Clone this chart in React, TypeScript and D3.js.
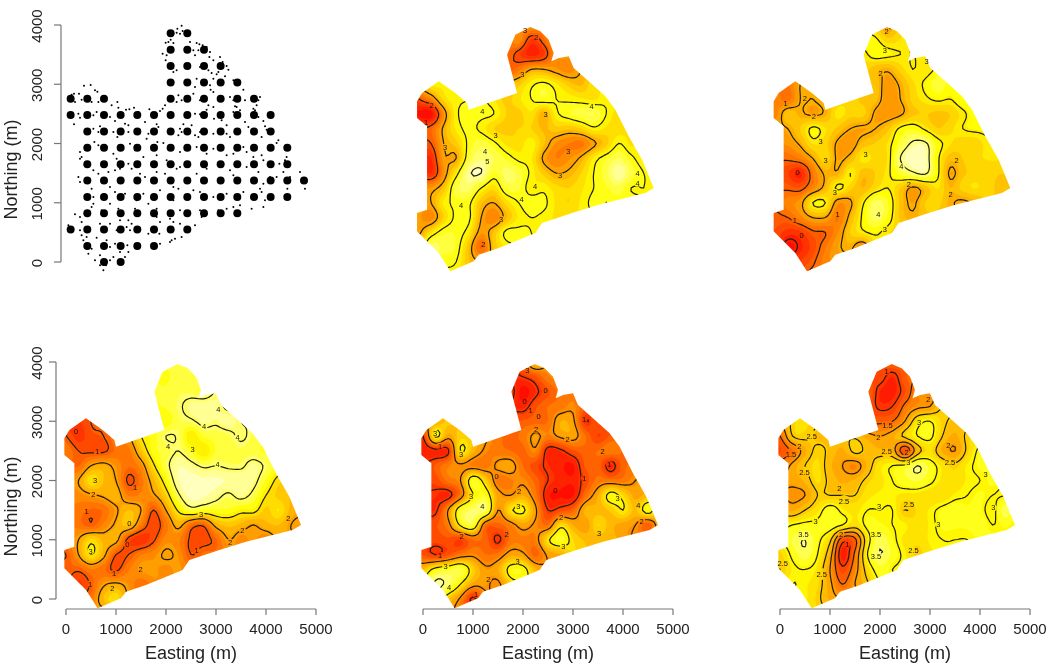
import React from "react";
import * as d3 from "d3";

const x = null;

// field grid: easting per column, northing per row
const gridE = [0, 250, 500, 750, 1000, 1250, 1500, 1750, 2000, 2250, 2500, 2750, 3000, 3250, 3500, 3750, 4000, 4250, 4500, 4750];
const gridN = [4000, 3750, 3500, 3250, 3000, 2750, 2500, 2250, 2000, 1750, 1500, 1250, 1000, 750, 500, 250, 0, -250];

const boundary = [
  [2233, 3966], [2433, 3893], [2600, 3752], [2700, 3527], [2653, 3387], [2800, 3443], [3000, 3471], [3100, 3274],
  [3400, 3049], [3733, 2796], [3933, 2571], [4200, 2121], [4467, 1727], [4700, 1249], [4533, 1165], [3600, 968],
  [3067, 827], [2467, 658], [2333, 489], [1600, 236], [1200, 124], [1100, 11], [633, -158], [400, 152],
  [-33, 518], [-33, 827], [167, 883], [167, 2290], [-33, 2430], [-33, 2712], [67, 2852], [400, 3049],
  [733, 2852], [967, 2684], [1000, 2571], [1967, 2852], [1767, 3499], [1933, 3837],
];

// sampling design: coarse grid of large points
const coarseE = [73, 406, 740, 1073, 1406, 1740, 2073, 2406, 2740, 3073, 3406, 3740, 4073, 4406, 4740];
const coarseN = [3859, 3583, 3307, 3031, 2755, 2479, 2203, 1927, 1651, 1375, 1099, 823, 547, 271, 0];
const coarseCols = [[6, 7], [6, 8], [6, 9], [6, 10], [0, 2], [0, 12], [1, 12], [1, 13], [1, 13], [1, 14], [1, 13], [1, 10], [0, 7], [1, 5], [2, 3]];
const coarseExtra = [[], [], [], [], [6, 7, 8, 9, 10, 11], [], [], [], [], [], [], [], [], [], []];

const finePoints = [
  [2293,3989],[2207,3938],[2313,3899],[2193,3871],[2260,3854],[2360,3831],[1973,3702],[2027,3713],[2073,3753],[2127,3696],
  [2460,3713],[2593,3696],[2647,3674],[2713,3657],[2793,3629],[1913,3516],[1993,3488],[1973,3404],[2527,3573],[2560,3488],
  [2627,3573],[2860,3544],[2847,3460],[2927,3404],[3060,3460],[3113,3376],[3193,3308],[3227,3246],[2193,3235],[2127,3207],
  [2660,3291],[2827,3235],[2893,3190],[2993,3167],[2927,3094],[3160,3134],[3027,3207],[2593,3094],[2560,2954],[2860,2982],
  [2927,2869],[2873,2909],[3327,3066],[3460,3010],[3527,2909],[1960,2644],[1913,2588],[1860,2549],[1793,2504],[2227,2813],
  [2293,2729],[2193,2700],[2527,2841],[2660,2729],[2927,2616],[2827,2644],[3260,2785],[3327,2729],[3360,2627],[3560,2729],
  [3860,2785],[3827,2729],[3793,2644],[3727,2588],[93,2824],[140,2841],[240,2841],[340,2976],[473,2987],[560,2897],
  [607,2875],[293,2740],[160,2700],[493,2700],[627,2700],[693,2729],[893,2644],[1007,2700],[1027,2605],[1180,2571],
  [1247,2577],[1340,2605],[1427,2532],[1647,2577],[227,2504],[260,2436],[140,2324],[593,2532],[527,2475],[860,2447],
  [960,2380],[1160,2335],[1227,2307],[1093,2250],[1227,2194],[1560,2363],[1793,2324],[1827,2279],[1627,2166],[2260,2250],
  [2227,2138],[2327,2324],[2493,2307],[2560,2504],[2660,2492],[2793,2571],[2940,2419],[3093,2391],[3193,2307],[3327,2532],
  [3393,2616],[3460,2560],[3760,2560],[3827,2447],[3927,2380],[3960,2290],[3993,2234],[3560,2363],[3627,2279],[527,2250],
  [660,2290],[627,2194],[927,2194],[1007,2110],[1593,2082],[1807,2025],[1927,2008],[2293,2194],[2560,2138],[2660,2194],
  [2627,2110],[2927,2166],[3193,2166],[3260,2110],[3460,2194],[3893,2110],[4227,2054],[4193,2008],[260,1857],[293,1772],
  [260,1744],[547,2025],[627,1969],[793,1941],[927,1828],[993,1744],[1260,1997],[1360,1885],[1527,1772],[1793,1800],
  [1993,1716],[2260,1857],[2593,1941],[2793,1828],[2927,1913],[3193,1800],[3327,1828],[3527,1941],[3593,1857],[3727,1772],
  [3893,1800],[3927,1716],[4393,1772],[4360,1716],[4247,1660],[227,1435],[260,1350],[527,1547],[627,1491],[827,1519],
  [960,1547],[1060,1575],[1227,1660],[1293,1575],[1460,1491],[1560,1435],[1793,1519],[1960,1491],[2193,1575],[2227,1238],
  [2260,1603],[2593,1491],[2793,1575],[3260,1547],[3327,1463],[3593,1603],[3827,1519],[3927,1322],[4060,1435],[4193,1435],
  [4327,1519],[4460,1435],[4660,1519],[4760,1238],[4407,1238],[493,1238],[527,1097],[860,1266],[960,1181],[1160,1153],
  [1527,1153],[1393,1041],[1860,1210],[2127,1266],[2527,1210],[2660,1181],[2927,1097],[3193,1153],[3527,1181],[3860,1238],
  [3893,1181],[4027,1097],[3960,1041],[3927,928],[3693,900],[527,985],[493,928],[693,872],[860,985],[1027,900],
  [1360,900],[1627,985],[1793,900],[2127,1041],[2260,872],[2660,872],[3027,872],[3193,900],[3327,928],[3460,956],
  [160,805],[260,760],[293,675],[27,619],[260,534],[293,450],[660,647],[860,647],[1060,703],[1227,703],
  [1293,647],[1793,760],[1860,675],[2060,731],[2127,675],[2260,647],[2693,760],[2560,619],[2293,422],[393,422],
  [593,411],[993,534],[1260,534],[1193,591],[1627,478],[1760,506],[1847,478],[2060,338],[2160,394],[2093,366],
  [327,366],[427,141],[493,225],[793,366],[860,253],[960,309],[1207,281],[1227,169],[1060,169],[927,84],
  [860,28],[660,113],[560,28],[660,-56],[727,-141],[780,-56],[1160,84],[1860,309],
];

// each row: first entry is the column it starts at, then values left to right
const fieldA = [
  [9, 2.9],
  [8, 2.7, 1.7, 2.2, 3],
  [8, 1.8, 1.4, 1.7, 2.7],
  [8, 2.4, 3.0, 3.0, 2.8, 2.6, 3],
  [1, 3.8, 3.8, x, x, x, x, x, x, 3.9, 4.1, 3.8, 3.4, 3.2, 3.7],
  [1, 2.6, 3.6, 3.9, x, x, x, 3.4, 3.7, 4.0, 4.2, 4.0, 3.9, 3.8, 3.7],
  [0, 1.2, 1.1, 2.7, 3.9, 4.1, 4.1, 4.0, 3.5, 3.4, 3.7, 3.1, 3.9, 4.2, 4.4, 4.5, 4.0, 3.6],
  [0, 2.0, 2.2, 3.1, 3.8, 4.1, 3.9, 3.5, 3.4, 3.5, 3.5, 3.2, 3.4, 3.3, 3.5, 3.9, 3.7, 3.6],
  [1, 2.0, 3.0, 3.4, 4.1, 4.4, 4.1, 3.7, 3.6, 3.9, 3.3, 2.7, 2.5, 2.4, 2.9, 3.4, 4.0, 3.7],
  [1, 1.5, 2.9, 3.0, 4.3, 4.7, 4.5, 4.2, 3.9, 3.8, 2.9, 2.5, 2.7, 3.1, 3.8, 4.2, 4.5, 4.1, 3.8],
  [1, 1.5, 2.7, 3.8, 4.9, 5.0, 4.2, 4.6, 4.4, 3.9, 3.4, 3.0, 3.1, 3.5, 4.0, 4.4, 5.0, 4.4, 4.0],
  [1, 2.8, 3.3, 4.4, 4.6, 4.0, 3.6, 4.3, 4.3, 3.8, 3.9, 3.6, 3.5, 3.7, 4.0, 4.2, 4.4, 4.0, 4.0, 3.9],
  [0, 2.9, 3.0, 3.8, 4.1, 4.1, 3.3, 3.0, 3.6, 4.0, 4.2, 4.1, 3.7, 3.5, 3.8, 4.1, 4.0],
  [0, 2.8, 2.6, 3.5, 4.1, 4.1, 3.0, 2.5, 3.2, 3.8, 4.0, 3.9, 3.7],
  [0, 2.9, 3.7, 4.2, 4.2, 3.8, 2.8, 3.3, 4.1, 4.1, 4.0],
  [1, 4.6, 4.4, 4.2, 3.3, 2.2, 3.3, 3.8],
  [2, 4.1, 4.0, 3.3, 3.0],
  [3, 3.8],
];
const fieldB = [
  [9, 1.8],
  [8, 3.1, 2.6, 2.8, 3],
  [8, 3.2, 3.1, 3.0, 3.0],
  [8, 2.3, 2.1, 2.6, 3.0, 2.8, 3.1],
  [1, 1.3, 2.0, x, x, x, x, x, 2.4, 1.7, 2.1, 2.7, 3.1, 3.6, 3.2],
  [0, 1.5, 1.2, 2.0, 2.0, x, x, x, x, 2.3, 1.7, 2.0, 2.6, 2.9, 3.1, 3.0, 3.3],
  [0, 1.5, 2.4, 2.1, 1.9, 2.1, 2.9, 2.6, 2.6, 1.9, 1.7, 1.9, 2.4, 2.5, 2.4, 2.5, 2.9, 3.2],
  [1, 2.0, 2.5, 3.1, 2.8, 2.4, 2.0, 1.9, 2.0, 2.4, 3.1, 3.3, 2.9, 2.5, 2.7, 3.0, 3.1, 3.1],
  [1, 1.7, 2.1, 2.8, 2.6, 1.9, 1.7, 2.3, 2.5, 2.8, 3.5, 4.1, 4.1, 3.2, 2.8, 2.6, 2.6, 2.9],
  [1, 1.1, 1.4, 2.0, 2.7, 1.9, 2.2, 2.9, 2.7, 2.8, 4.0, 4.4, 4.3, 3.1, 2.3, 2.5, 2.7, 2.8, 2.8],
  [1, 0.5, 0.1, 1.3, 2.1, 2.1, 3.0, 2.3, 2.5, 2.9, 3.5, 3.9, 4.1, 3.1, 1.9, 2.4, 2.6, 2.6, 2.5],
  [1, 0.9, 0.8, 1.5, 2.2, 3.1, 2.6, 2.2, 2.7, 3.0, 2.5, 1.9, 2.3, 2.8, 2.2, 2.6, 2.8, 2.6, 2.4, 2.3],
  [1, 1.5, 1.8, 3.0, 3.0, 1.7, 1.9, 2.9, 3.8, 3.4, 2.4, 1.9, 2.5, 2.6, 2.1, 1.9, 2.1],
  [0, 0.9, 1.0, 1.5, 2.0, 2.0, 1.3, 2.2, 3.1, 3.8, 3.3, 2.4, 2.1, 2.4],
  [0, 0.7, 0.3, 0.4, 0.9, 1.0, 1.6, 2.5, 2.9, 3.1, 2.8],
  [1, -0.2, 0.1, 0.6, 1.3, 1.9, 2.1, 1.6],
  [2, 0.5, 0.9, 1.5],
  [3, 1.2],
];
const fieldC = [
  [9, 3.6],
  [8, 3.5, 3.7, 3.6],
  [7, 3.6, 3.6, 3.8, 3.8, 3.7],
  [8, 3.6, 3.9, 4.2, 4.3, 4.2, 3.9],
  [1, 0.6, 1.0, x, x, x, x, x, 3.3, 3.8, 3.9, 4.2, 4.1, 4.3, 4.0],
  [1, 0.5, 0.9, 1.0, 1.5, x, 3.0, 3.4, 4.0, 3.9, 3.0, 3.6, 3.7, 3.8, 4.1, 3.8],
  [0, 1.5, 1.0, 0.9, 0.9, 1.3, 1.4, 2.5, 3.4, 3.7, 4.0, 3.5, 3.0, 3.6, 3.7, 3.8, 3.7, 3.5],
  [1, 1.2, 2.0, 2.2, 1.8, 1.3, 1.7, 2.9, 3.8, 4.4, 4.2, 3.9, 4.0, 3.9, 3.9, 4.2, 3.9],
  [1, 2.0, 2.9, 2.4, 2.0, 0.9, 1.4, 2.3, 3.3, 4.4, 4.6, 4.5, 4.5, 4.4, 4.4, 4.2, 3.5, 2.8],
  [1, 1.7, 1.9, 2.1, 2.3, 1.5, 1.6, 1.9, 2.7, 3.9, 4.6, 4.5, 4.2, 3.9, 4.2, 3.8, 3.0, 2.6, 2.4],
  [1, 1.4, 1.2, 1.3, 1.9, 2.4, 2.0, 1.0, 2.0, 3.1, 3.7, 3.5, 3.5, 3.5, 3.2, 3.2, 2.6, 3.0, 2.3],
  [1, 1.4, 1.1, 1.6, 2.1, 2.5, 1.5, 0.7, 1.4, 2.2, 1.3, 1.1, 2.2, 2.5, 2.3, 2.0, 2.3, 2.4, 2.0, 1.8],
  [1, 2.0, 2.8, 2.3, 2.2, 0.8, 0.4, 0.9, 1.7, 1.6, 0.9, 0.8, 1.2, 2.0, 1.7, 1.9, 1.6],
  [0, 1.0, 2.0, 3.0, 2.2, 1.0, 1.0, 1.5, 1.7, 2.1, 1.8, 1.0, 1.3],
  [0, 1.2, 1.1, 1.5, 1.3, 0.9, 1.5, 1.9, 1.9, 1.7, 1.9],
  [1, 0.6, 1.1, 1.9, 2.1, 1.8, 1.3],
  [2, 1.4, 2.4, 2.9],
  [3, 1.7],
];
const fieldD = [
  [9, 2.6],
  [8, 1.0, 1.3, 1.8, 1.9],
  [7, 1.2, 0.5, 0.9, 1.3, 1.7],
  [8, 0.8, 1.3, 1.6, 1.7, 1.9, 1.4],
  [1, 2.3, 2.6, x, x, x, x, x, 1.4, 1.5, 1.6, 2.3, 2.1, 1.0, 1.4],
  [0, 1.0, 3.1, 2.2, 2.7, 2.6, x, x, 1.5, 1.7, 2.1, 1.8, 2.1, 2.2, 1.6, 1.1, 1.4],
  [0, 0.7, 0.8, 0.9, 3.0, 2.4, 1.9, 1.7, 1.6, 1.5, 1.9, 0.8, 0.9, 1.3, 1.5, 1.6, 1.8, 1.6],
  [1, 1.4, 1.8, 1.9, 1.8, 1.7, 2.1, 2.2, 1.6, 1.2, 0.9, 0.7, 0.6, 1.4, 1.5, 0.8, 1.5],
  [1, 1.2, 1.7, 2.0, 3.4, 2.7, 1.7, 1.8, 1.9, 1.5, 1.0, 0.8, 0.7, 1.2, 1.7, 1.7, 1.7, 2.0],
  [1, 0.9, 0.8, 1.7, 3.0, 3.3, 2.2, 2.0, 2.3, 1.7, 0.7, 0.6, 0.6, 1.6, 2.3, 3.2, 2.8, 2.2, 2.5],
  [1, 0.9, 2.0, 3.4, 3.8, 3.8, 2.0, 2.9, 3.1, 2.1, 1.0, 1.2, 1.5, 2.4, 2.4, 2.6, 3.0, 2.5, 3.3],
  [1, 1.3, 1.8, 3.1, 3.5, 1.6, 1.5, 1.8, 2.2, 1.9, 1.6, 2.8, 2.3, 2.1, 2.8, 2.4, 2.2, 2.0, 1.4, 2.4],
  [1, 1.2, 1.3, 1.1, 1.6, 1.5, 0.9, 1.7, 1.8, 1.8, 2.9, 3.4, 2.8, 2.5, 2.4, 2.4, 2.2],
  [0, 1.3, 1.0, 1.3, 1.7, 1.9, 1.6, 1.7, 2.2, 2.1, 1.5, 2.1, 2.3],
  [0, 2.5, 3.2, 3.4, 3.6, 2.7, 2.1, 2.3, 3.2, 3.2, 2.4],
  [1, 4.1, 3.8, 3.0, 2.2, 2.1, 1.9],
  [2, 2.6, 1.9, 0.9],
  [3, 1.8],
];
const fieldE = [
  [9, 1.5],
  [8, 1.2, 0.8, 1.4],
  [7, 1.5, 0.8, 0.7, 1.2, 1.8],
  [7, 1.3, 0.9, 1.0, 1.6, 1.9, 2.0],
  [1, 2.6, 2.7, x, x, x, x, x, 1.4, 1.5, 2.0, 2.8, 3.0, 2.6, 2.4],
  [0, 1.5, 2.5, 2.6, 2.4, x, x, x, x, 2.0, 2.2, 2.6, 3.0, 3.1, 2.5, 2.2, 2.6],
  [0, 1.2, 1.6, 2.2, 2.6, 2.4, 2.2, 2.6, 2.4, 2.3, 2.2, 1.2, 2.3, 2.7, 2.2, 2.0, 2.6, 3.1],
  [1, 2.1, 2.5, 2.7, 2.3, 2.0, 1.8, 2.3, 2.8, 3.0, 3.1, 3.5, 3.2, 2.8, 2.6, 2.9, 3.1],
  [1, 2.1, 2.3, 2.7, 2.4, 2.2, 2.3, 2.6, 2.8, 3.0, 3.2, 3.3, 3.1, 2.8, 2.7, 2.9, 3.0, 3.1],
  [1, 1.9, 2.0, 2.5, 2.5, 2.5, 2.5, 2.8, 2.9, 2.9, 2.8, 2.8, 2.7, 2.7, 2.9, 3.0, 3.1, 3.0, 3.0],
  [1, 2.2, 2.5, 2.8, 3.2, 2.9, 2.8, 3.0, 3.0, 3.0, 2.5, 2.7, 2.9, 3.1, 3.2, 3.1, 3.1, 2.9, 3.4],
  [1, 3.0, 3.1, 3.1, 3.2, 3.0, 2.7, 3.1, 3.1, 3.0, 2.9, 2.7, 2.9, 3.1, 3.1, 3.1, 3.2, 3.0, 3.1, 3.0],
  [1, 3.3, 3.5, 3.1, 2.6, 1.2, 1.4, 2.8, 3.4, 3.1, 2.8, 2.7, 2.9, 3.0, 3.0, 3.0],
  [0, 2.6, 3.1, 3.4, 3.0, 2.2, 0.7, 1.6, 3.0, 3.5, 3.2, 2.9, 2.6, 2.8],
  [0, 2.5, 2.9, 3.0, 2.8, 2.0, 1.1, 1.8, 2.7, 3.2, 3.0],
  [1, 3.0, 2.9, 2.7, 2.1, 1.5, 2.0],
  [2, 2.9, 2.6, 2.2],
  [3, 2.7],
];

// contour labels: easting, northing, text
const labelsA = [[2127,3904,"3"],[2347,3786,"2"],[2073,3173,"3"],[3460,2633,"4"],[2540,2492,"3"],[1273,2548,"4"],[260,2638,"2"],[147,2357,"1"],[1540,2143,"3"],[527,1935,"3"],[1327,1868,"4"],[1373,1699,"5"],[2827,1457,"3"],[2993,1868,"3"],[4380,1502,"4"],[4380,1328,"4"],[2327,1271,"4"],[847,951,"4"],[2060,1058,"4"],[1647,726,"3"],[1293,293,"2"]];
const labelsB = [[2227,3899,"2"],[2193,3567,"3"],[3027,3381,"3"],[2107,3184,"2"],[593,2762,"2"],[207,2678,"1"],[773,2453,"2"],[907,2031,"3"],[1007,1722,"3"],[1807,1817,"3"],[2520,1609,"4"],[447,1513,"0"],[2673,1316,"2"],[3627,1722,"2"],[3507,1142,"2"],[1193,1176,"3"],[1247,810,"1"],[2060,805,"4"],[2193,557,"3"],[393,709,"1"],[527,456,"0"]];
const labelsC = [[200,2835,"0"],[627,2487,"1"],[3047,3207,"4"],[2760,2920,"4"],[3433,2729,"4"],[2040,2582,"4"],[2533,2532,"3"],[3033,2273,"4"],[580,1997,"3"],[547,1772,"2"],[1380,1879,"1"],[413,1480,"1"],[2700,1429,"3"],[1267,1283,"0"],[3527,1159,"2"],[4447,1356,"2"],[1227,917,"0"],[493,810,"3"],[3280,962,"2"],[2613,816,"1"],[960,433,"1"],[1493,501,"2"],[480,253,"1"],[927,174,"2"]];
const labelsD = [[2087,3865,"3"],[2453,3516,"0"],[2033,3331,"0"],[2153,3179,"1"],[2313,3077,"0"],[3220,3032,"1"],[2260,2864,"2"],[2893,2695,"2"],[3593,2487,"2"],[240,2796,"3"],[340,2582,"1"],[760,2447,"3"],[3727,2273,"1"],[3227,2037,"1"],[1473,2070,"0"],[1920,1823,"2"],[2647,1840,"0"],[960,1727,"3"],[1187,1570,"4"],[1907,1558,"3"],[3893,1699,"3"],[4307,1575,"4"],[4373,1316,"2"],[2760,1373,"2"],[773,1063,"2"],[1673,1091,"2"],[2807,883,"3"],[3520,1108,"3"],[340,743,"1"],[453,551,"3"],[1893,641,"3"],[520,197,"4"],[1307,332,"2"],[1060,79,"1"]];
const labelsE = [[2133,3837,"1"],[2967,3370,"2"],[2780,2982,"3"],[2147,2925,"1.5"],[1967,2729,"2"],[633,2751,"2.5"],[387,2571,"2"],[220,2447,"1.5"],[3367,2599,"2"],[2133,2487,"2.5"],[2533,2470,"2"],[3400,2307,"2.5"],[2567,2301,"3"],[487,2132,"2.5"],[4113,2110,"3"],[1187,1868,"2"],[1280,1654,"2.5"],[1980,1558,"3"],[2580,1603,"2.5"],[4267,1541,"3"],[713,1316,"3"],[3167,1260,"3"],[467,1091,"3.5"],[1220,1091,"2"],[1920,1091,"3.5"],[1347,928,"1"],[2667,827,"2.5"],[1920,726,"3.5"],[53,602,"2.5"],[833,422,"2.5"]];

const xTicks = [0, 1000, 2000, 3000, 4000, 5000];
const yTicks = [0, 1000, 2000, 3000, 4000];
const FONT = "'Liberation Sans', Arial, sans-serif";
const UPSAMPLE = 5;
const STEP = 250;

const xScale = (x0: number) => d3.scaleLinear().domain([0, 5000]).range([x0, x0 + 250]);
const yScale = (y0: number) => d3.scaleLinear().domain([0, 4000]).range([y0, y0 - 237]);

// rows -> full matrix, holes outside the survey area filled from their neighbours
function buildMatrix(rows: any[][]) {
  const nc = gridE.length;
  const m: (number | null)[][] = rows.map((r) => {
    const out: (number | null)[] = new Array(nc).fill(null);
    r.slice(1).forEach((v, k) => { if (r[0] + k < nc) out[r[0] + k] = v; });
    return [out[0], ...out]; // one extra column on the left, the area starts just west of 0
  });
  let holes = true;
  while (holes) {
    holes = false;
    const copy = m.map((r) => r.slice());
    m.forEach((r, j) => r.forEach((v, i) => {
      if (v !== null) return;
      const near: number[] = [];
      for (let dj = -1; dj <= 1; dj++) for (let di = -1; di <= 1; di++) {
        const n = m[j + dj]?.[i + di];
        if (n !== null && n !== undefined) near.push(n);
      }
      if (near.length) copy[j][i] = d3.mean(near) as number;
      else holes = true;
    }));
    copy.forEach((r, j) => (m[j] = r));
  }
  return m as number[][];
}

// catmull-rom resample so the filled bands come out smooth
function resample(m: number[][]) {
  const h = m.length, w = m[0].length;
  const W = (w - 1) * UPSAMPLE + 1, H = (h - 1) * UPSAMPLE + 1;
  const cr = (a: number, b: number, c: number, d: number, t: number) =>
    0.5 * (2 * b + (c - a) * t + (2 * a - 5 * b + 4 * c - d) * t * t + (3 * b - a - 3 * c + d) * t * t * t);
  const cl = (v: number, n: number) => Math.max(0, Math.min(n - 1, v));
  const out = new Array(W * H);
  for (let y = 0; y < H; y++) {
    const fy = y / UPSAMPLE, j = Math.min(h - 2, Math.floor(fy)), ty = fy - j;
    for (let x2 = 0; x2 < W; x2++) {
      const fx = x2 / UPSAMPLE, i = Math.min(w - 2, Math.floor(fx)), tx = fx - i;
      const col = [-1, 0, 1, 2].map((dj) => {
        const r = m[cl(j + dj, h)];
        return cr(r[cl(i - 1, w)], r[cl(i, w)], r[cl(i + 1, w)], r[cl(i + 2, w)], tx);
      });
      out[y * W + x2] = cr(col[0], col[1], col[2], col[3], ty);
    }
  }
  return { values: out, W, H };
}

function HeatMap({ id, rows, levels, labels, lo, mid, hi, x0, y0 }: any) {
  const sx = xScale(x0), sy = yScale(y0);
  const { values, W, H } = resample(buildMatrix(rows));
  const path = d3.geoPath(d3.geoTransform({
    point(px: number, py: number) {
      const e = -STEP + ((px - 0.5) * STEP) / UPSAMPLE;
      const n = gridN[0] - ((py - 0.5) * STEP) / UPSAMPLE;
      (this as any).stream.point(sx(e), sy(n));
    },
  }));
  const color = d3.scaleLinear<string>().domain([lo, mid, hi]).range(["#ff0000", "#ffff00", "#ffffff"]).clamp(true);
  const bandStep = (hi - lo) / 18;
  const bands = d3.range(lo - bandStep, hi + bandStep, bandStep);
  const gen = d3.contours().size([W, H]).smooth(true);
  const outline = d3.line()(boundary.map(([e, n]) => [sx(e), sy(n)] as [number, number])) + "Z";

  return (
    <g>
      <defs>
        <clipPath id={`clip-${id}`}><path d={outline} /></clipPath>
        <mask id={`mask-${id}`} maskUnits="userSpaceOnUse" x={x0 - 20} y={y0 - 260} width={300} height={300}>
          <rect x={x0 - 20} y={y0 - 260} width={300} height={300} fill="#fff" />
          {labels.map((l: any, k: number) => (
            <circle key={k} cx={sx(l[0])} cy={sy(l[1])} r={l[2].length > 1 ? 6 : 3.5} fill="#000" />
          ))}
        </mask>
      </defs>
      <g clipPath={`url(#clip-${id})`} filter="url(#soft)">
        <rect x={x0 - 20} y={y0 - 260} width={300} height={300} fill={color(lo) as string} />
        {bands.map((t) => (
          <path key={t} d={path(gen.contour(values, t)) || ""} fill={color(t + bandStep / 2) as string} />
        ))}
        <g mask={`url(#mask-${id})`}>
          {levels.map((t: number) => (
            <path key={t} d={path(gen.contour(values, t)) || ""} fill="none" stroke="#1f1f10" strokeWidth={1.2} />
          ))}
        </g>
      </g>
      <g fontFamily={FONT} fontSize={7.5} fill="#111" textAnchor="middle" filter="url(#softer)">
        {labels.map((l: any, k: number) => (
          <text key={k} x={sx(l[0])} y={sy(l[1])} dy="0.35em">{l[2]}</text>
        ))}
      </g>
    </g>
  );
}

function XAxis({ x0, y }: any) {
  const sx = xScale(x0);
  return (
    <g filter="url(#softer)">
      <line x1={sx(0)} x2={sx(5000)} y1={y} y2={y} stroke="#777" strokeWidth={1.2} />
      {xTicks.map((t) => (
        <g key={t}>
          <line x1={sx(t)} x2={sx(t)} y1={y} y2={y + 6} stroke="#777" strokeWidth={1.2} />
          <text x={sx(t)} y={y + 20} dy="0.35em" textAnchor="middle" fontFamily={FONT} fontSize={15} fill="#222">{t}</text>
        </g>
      ))}
      <text x={sx(2500)} y={y + 44} dy="0.35em" textAnchor="middle" fontFamily={FONT} fontSize={18} fill="#222">Easting (m)</text>
    </g>
  );
}

function YAxis({ y0, x }: any) {
  const sy = yScale(y0);
  return (
    <g filter="url(#softer)">
      <line x1={x} x2={x} y1={sy(0)} y2={sy(4000)} stroke="#777" strokeWidth={1.2} />
      {yTicks.map((t) => (
        <g key={t}>
          <line x1={x - 7} x2={x} y1={sy(t)} y2={sy(t)} stroke="#777" strokeWidth={1.2} />
          <text transform={`translate(37,${sy(t) + 1}) rotate(-90)`} dy="0.35em" textAnchor="middle" fontFamily={FONT} fontSize={15} fill="#222">{t}</text>
        </g>
      ))}
      <text transform={`translate(11,${sy(2000) + 26}) rotate(-90)`} dy="0.35em" textAnchor="middle" fontFamily={FONT} fontSize={18} fill="#222">Northing (m)</text>
    </g>
  );
}

function SampleMap({ x0, y0 }: any) {
  const sx = xScale(x0), sy = yScale(y0);
  const big: [number, number][] = [];
  coarseN.forEach((n, j) => {
    const [a, b] = coarseCols[j];
    d3.range(a, b + 1).forEach((i) => big.push([coarseE[i], n]));
    coarseExtra[j].forEach((i) => big.push([coarseE[i], n]));
  });
  return (
    <g filter="url(#softer)">
      {finePoints.map((p, k) => <circle key={k} cx={sx(p[0])} cy={sy(p[1])} r={1} fill="#000" />)}
      {big.map((p, k) => <circle key={k} cx={sx(p[0])} cy={sy(p[1])} r={4} fill="#000" />)}
    </g>
  );
}

export default function App() {
  return (
    <svg width={1050} height={669} style={{ position: "absolute", left: 0, top: 0, background: "#fff" }}>
      <defs>
        <filter id="soft" x="-5%" y="-5%" width="110%" height="110%"><feGaussianBlur stdDeviation={0.6} /></filter>
        <filter id="softer" x="-5%" y="-5%" width="110%" height="110%"><feGaussianBlur stdDeviation={0.3} /></filter>
      </defs>
      <SampleMap x0={67} y0={262} />
      <YAxis y0={262} x={61} />
      <HeatMap id="a" rows={fieldA} levels={[1, 2, 3, 4, 5]} labels={labelsA} lo={1.0} mid={4.0} hi={5.5} x0={418.7} y0={262} />
      <HeatMap id="b" rows={fieldB} levels={[0, 1, 2, 3, 4]} labels={labelsB} lo={-0.4} mid={3.2} hi={4.8} x0={775.3} y0={262} />
      <HeatMap id="c" rows={fieldC} levels={[0, 1, 2, 3, 4]} labels={labelsC} lo={-0.2} mid={3.3} hi={5} x0={66} y0={599} />
      <HeatMap id="d" rows={fieldD} levels={[1, 2, 3, 4]} labels={labelsD} lo={0.4} mid={3.2} hi={4.7} x0={423} y0={599} />
      <HeatMap id="e" rows={fieldE} levels={[0.5, 1, 1.5, 2, 2.5, 3, 3.5]} labels={labelsE} lo={0.4} mid={3.05} hi={4.1} x0={780} y0={599} />
      <YAxis y0={599} x={56} />
      <XAxis x0={66} y={609} />
      <XAxis x0={423} y={609} />
      <XAxis x0={780} y={609} />
    </svg>
  );
}
